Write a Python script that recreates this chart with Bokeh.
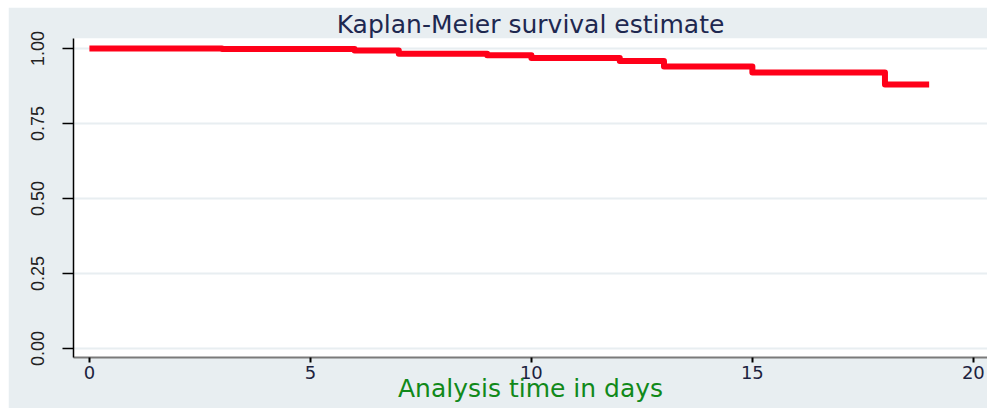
from bokeh.plotting import figure
from bokeh.models import Range1d, FixedTicker, NumeralTickFormatter, Spacer
from bokeh.layouts import column, row
from bokeh.embed import file_html
from bokeh.resources import INLINE

# Data (Kaplan-Meier step function)
time_days = [0, 3, 6, 7, 9, 10, 12, 13, 15, 18, 19]
survival = [1.0, 0.998, 0.993, 0.982, 0.977, 0.968, 0.958, 0.94, 0.92, 0.88, 0.88]
x_ticks = [0, 5, 10, 15, 20]
y_ticks = [0.0, 0.25, 0.5, 0.75, 1.0]

BG = "#e8eef1"

p = figure(width=979, height=401, output_backend="svg", toolbar_location=None,
           x_range=Range1d(-0.36, 20.32), y_range=Range1d(-0.03, 1.033),
           min_border_left=65, min_border_right=0, min_border_top=31, min_border_bottom=51,
           border_fill_color=BG, background_fill_color="white", outline_line_color=None)

p.title.text = "Kaplan-Meier survival estimate"
p.title.align = "center"
p.title.text_font = "DejaVu Sans"
p.title.text_font_size = "25px"
p.title.text_font_style = "normal"
p.title.text_color = "#1e2850"
p.title.standoff = 0

p.step(time_days, survival, mode="after", line_width=6, line_color="#ff0019",
       line_join="round")

# grid
p.xgrid.grid_line_color = None
p.ygrid.grid_line_color = BG
p.ygrid.grid_line_width = 2
p.ygrid.ticker = FixedTicker(ticks=y_ticks)

# x axis
xa = p.xaxis[0]
xa.ticker = FixedTicker(ticks=x_ticks)
xa.axis_line_color = "#7a7a7a"
xa.axis_line_width = 2
xa.major_tick_line_color = "black"
xa.major_tick_line_width = 2
xa.major_tick_out = 5
xa.major_tick_in = 0
xa.minor_tick_line_color = None
xa.major_label_text_font = "DejaVu Sans"
xa.major_label_text_font_size = "18px"
xa.major_label_text_color = "#1c2340"
xa.major_label_standoff = 3
xa.axis_label = "Analysis time in days"
xa.axis_label_text_font = "DejaVu Sans"
xa.axis_label_text_font_size = "25px"
xa.axis_label_text_font_style = "normal"
xa.axis_label_text_color = "#11891a"
xa.axis_label_standoff = -8

# y axis
ya = p.yaxis[0]
ya.ticker = FixedTicker(ticks=y_ticks)
ya.formatter = NumeralTickFormatter(format="0.00")
ya.axis_line_color = "black"
ya.axis_line_width = 1.5
ya.major_tick_line_color = "black"
ya.major_tick_line_width = 1.5
ya.major_tick_out = 11
ya.major_tick_in = 0
ya.minor_tick_line_color = None
ya.major_label_orientation = "vertical"
ya.major_label_text_font = "'Liberation Sans Narrow', 'Liberation Sans', sans-serif"
ya.major_label_text_font_size = "18px"
ya.major_label_text_color = "#222222"
ya.major_label_standoff = 18

layout = column(Spacer(height=7), row(Spacer(width=8), p))

open("out.html", "w").write(file_html(layout, INLINE))
